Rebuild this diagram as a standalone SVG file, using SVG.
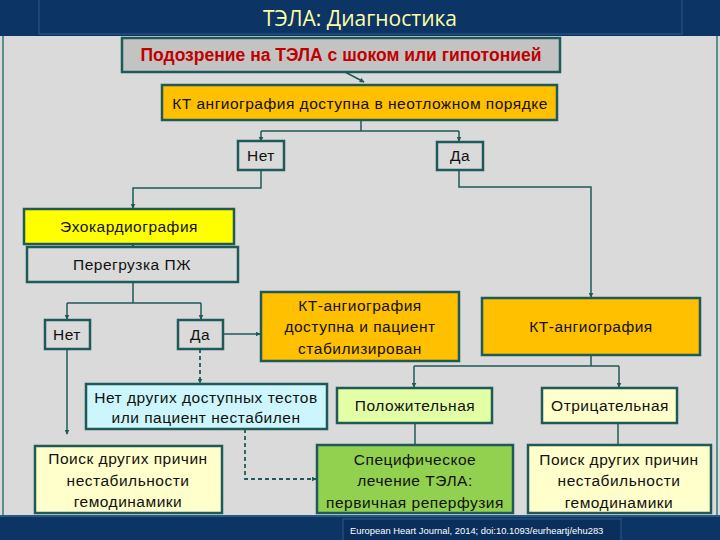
<svg xmlns="http://www.w3.org/2000/svg" width="720" height="540" viewBox="0 0 720 540">
<style>
  .box { stroke: #1f5a58; stroke-width: 2.5; }
  .t { font-family: "Liberation Sans", "Noto Sans", sans-serif; font-size: 15.5px; letter-spacing: 0.5px; fill: #111; text-anchor: middle; }
  .c { fill: none; stroke: #1f5a58; stroke-width: 1.5; }
  .d { fill: none; stroke: #1f5a58; stroke-width: 1.8; stroke-dasharray: 4 3; }
</style>
<defs>
  <marker id="ah" viewBox="0 0 8 8" refX="7" refY="4" markerWidth="5" markerHeight="5" orient="auto" markerUnits="userSpaceOnUse">
    <path d="M0,0 L8,4 L0,8 Z" fill="#1f5a58"/>
  </marker>
</defs>
<rect x="0" y="0" width="720" height="540" fill="#dadada"/>
<!-- title bar -->
<rect x="0" y="0" width="720" height="36" fill="#0c3566"/>
<rect x="39" y="-1" width="643" height="35" fill="none" stroke="#2f5a86" stroke-width="1"/>
<text x="360" y="26" font-family="'Open Sans', 'Liberation Sans', sans-serif" font-size="21" fill="#ffffa6" text-anchor="middle">ТЭЛА: Диагностика</text>
<line x1="3" y1="36" x2="3" y2="515" stroke="#5f8f8f" stroke-width="2"/>
<line x1="717" y1="36" x2="717" y2="515" stroke="#5f8f8f" stroke-width="2"/>
<!-- footer -->
<rect x="0" y="515" width="720" height="25" fill="#0c3566"/>
<line x1="0" y1="516" x2="720" y2="516" stroke="#35648f" stroke-width="1.5"/>
<rect x="343" y="519" width="278" height="22" fill="#0a2f5c" stroke="#2f5a86" stroke-width="1"/>
<text x="350" y="534" font-family="'Liberation Sans', sans-serif" font-size="9.4" fill="#ffffff">European Heart Journal, 2014; doi:10.1093/eurheartj/ehu283</text>

<g id="connectors">
  <path class="c" d="M345,72 L364,82" marker-end="url(#ah)"/>
  <path class="c" d="M361,120 V131 M261,131 H459"/>
  <path class="c" d="M261,131 V141" marker-end="url(#ah)"/>
  <path class="c" d="M459,131 V141" marker-end="url(#ah)"/>
  <path class="c" d="M261,170 V188 H133 V208" marker-end="url(#ah)"/>
  <path class="c" d="M459,170 V187 H591 V297" marker-end="url(#ah)"/>
  <path class="c" d="M133,244 V247" marker-end="url(#ah)"/>
  <path class="c" d="M133,282 V303 M67,303 H201"/>
  <path class="c" d="M67,303 V319" marker-end="url(#ah)"/>
  <path class="c" d="M201,303 V319" marker-end="url(#ah)"/>
  <path class="c" d="M223,334 H260" marker-end="url(#ah)"/>
  <path class="c" d="M67,349 V434" marker-end="url(#ah)"/>
  <path class="d" d="M200,349 V383" marker-end="url(#ah)"/>
  <path class="d" d="M245,429 V479 H316" marker-end="url(#ah)"/>
  <path class="c" d="M591,355 V366 M414,366 H619"/>
  <path class="c" d="M414,366 V387" marker-end="url(#ah)"/>
  <path class="c" d="M619,366 V387" marker-end="url(#ah)"/>
  <path class="c" d="M415,423 V444"/>
  <path class="c" d="M618,423 V444"/>
</g>

<g id="n-suspect">
  <rect class="box" x="122" y="38" width="438" height="34" fill="#c3c3c3"/>
  <text x="341" y="61" font-family="'Liberation Sans', 'Noto Sans', sans-serif" font-size="17.5" font-weight="bold" fill="#c00000" text-anchor="middle">Подозрение на ТЭЛА с шоком или гипотонией</text>
</g>
<g id="n-ct-available">
  <rect class="box" x="162" y="85" width="395" height="35" fill="#ffc000"/>
  <text class="t" x="360" y="109">КТ ангиография доступна в неотложном порядке</text>
</g>
<g id="n-no1">
  <rect class="box" x="238" y="141" width="46" height="29" fill="#dadada"/>
  <text class="t" x="261" y="161">Нет</text>
</g>
<g id="n-yes1">
  <rect class="box" x="437" y="142" width="46" height="28" fill="#dadada"/>
  <text class="t" x="460" y="161">Да</text>
</g>
<g id="n-echo">
  <rect class="box" x="24" y="209" width="210" height="35" fill="#ffff00"/>
  <text class="t" x="129" y="232">Эхокардиография</text>
</g>
<g id="n-rv">
  <rect class="box" x="27" y="247" width="211" height="35" fill="#dadada"/>
  <text class="t" x="132" y="270">Перегрузка ПЖ</text>
</g>
<g id="n-no2">
  <rect class="box" x="45" y="320" width="45" height="29" fill="#dadada"/>
  <text class="t" x="67" y="340">Нет</text>
</g>
<g id="n-yes2">
  <rect class="box" x="178" y="320" width="45" height="29" fill="#dadada"/>
  <text class="t" x="200" y="340">Да</text>
</g>
<g id="n-ct-stable">
  <rect class="box" x="261" y="292" width="198" height="69" fill="#ffc000"/>
  <text class="t" x="360" y="311">КТ-ангиография</text>
  <text class="t" x="360" y="332">доступна и пациент</text>
  <text class="t" x="360" y="354">стабилизирован</text>
</g>
<g id="n-ct">
  <rect class="box" x="482" y="298" width="218" height="57" fill="#ffc000"/>
  <text class="t" x="591" y="332">КТ-ангиография</text>
</g>
<g id="n-notests">
  <rect class="box" x="86" y="384" width="241" height="45" fill="#ccf6fb"/>
  <text class="t" x="206" y="403">Нет других доступных тестов</text>
  <text class="t" x="206" y="423">или пациент нестабилен</text>
</g>
<g id="n-positive">
  <rect class="box" x="337" y="388" width="155" height="35" fill="#e2ffa6"/>
  <text class="t" x="415" y="411">Положительная</text>
</g>
<g id="n-negative">
  <rect class="box" x="542" y="388" width="135" height="35" fill="#ffffcc"/>
  <text class="t" x="610" y="411">Отрицательная</text>
</g>
<g id="n-search-left">
  <rect class="box" x="35" y="446" width="187" height="67" fill="#ffffcc"/>
  <text class="t" x="128" y="464">Поиск других причин</text>
  <text class="t" x="128" y="486">нестабильности</text>
  <text class="t" x="128" y="507">гемодинамики</text>
</g>
<g id="n-specific">
  <rect class="box" x="317" y="445" width="196" height="68" fill="#92d050"/>
  <text class="t" x="415" y="465">Специфическое</text>
  <text class="t" x="415" y="486">лечение ТЭЛА:</text>
  <text class="t" x="415" y="508">первичная реперфузия</text>
</g>
<g id="n-search-right">
  <rect class="box" x="528" y="445" width="183" height="68" fill="#ffffcc"/>
  <text class="t" x="619" y="465">Поиск других причин</text>
  <text class="t" x="619" y="486">нестабильности</text>
  <text class="t" x="619" y="508">гемодинамики</text>
</g>
</svg>
